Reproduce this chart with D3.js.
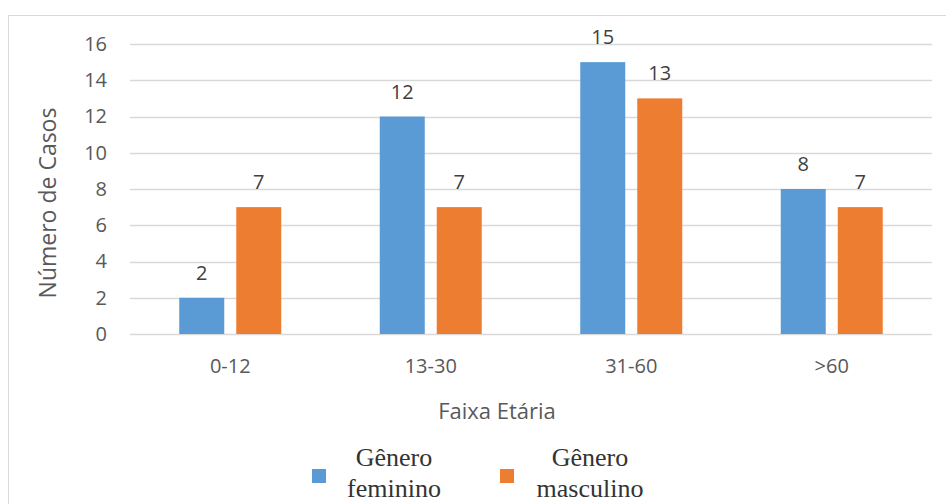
<!DOCTYPE html>
<html>
<head>
<meta charset="utf-8">
<script src="https://cdn.jsdelivr.net/npm/d3@7"></script>
<style>
  html, body { margin: 0; padding: 0; background: #fff; }
  svg { display: block; }
</style>
</head>
<body>
<svg id="chart" width="946" height="504"></svg>
<script>
// Age groups and case counts by gender
const categories = ["0-12", "13-30", "31-60", ">60"];
const feminino = [2, 12, 15, 8];
const masculino = [7, 7, 13, 7];
const seriesNames = ["Gênero feminino", "Gênero masculino"];
const yTicks = [0, 2, 4, 6, 8, 10, 12, 14, 16];

const colors = ["#5b9bd5", "#ed7d31"];
const textColor = "#595959";
const sans = "'Open Sans', 'Liberation Sans', sans-serif";

const svg = d3.select("#chart");

// outer frame
svg.append("rect")
  .attr("x", 8.5).attr("y", 15.5)
  .attr("width", 950).attr("height", 500)
  .attr("fill", "none").attr("stroke", "#d9d9d9").attr("stroke-width", 1);

const plot = { left: 130, right: 932, top: 44, bottom: 334 };

const x = d3.scaleBand().domain(categories).range([plot.left, plot.right]);
const y = d3.scaleLinear().domain([0, 16]).range([plot.bottom, plot.top]);

const barW = 45, gap = 12;

// gridlines
svg.append("g").selectAll("line").data(yTicks).join("line")
  .attr("x1", plot.left).attr("x2", plot.right)
  .attr("y1", d => Math.round(y(d)) + 0.5).attr("y2", d => Math.round(y(d)) + 0.5)
  .attr("stroke", "#d9d9d9").attr("stroke-width", 1.5);

// y axis labels
const yAxis = svg.append("g").attr("transform", `translate(${plot.left},0)`)
  .call(d3.axisLeft(y).tickValues(yTicks).tickSize(0).tickPadding(23));
yAxis.select(".domain").remove();
yAxis.selectAll("text").attr("font-family", sans).attr("font-size", 20).attr("fill", textColor);

// x axis labels
const xAxis = svg.append("g").attr("transform", `translate(0,${plot.bottom})`)
  .call(d3.axisBottom(x).tickSize(0).tickPadding(25));
xAxis.select(".domain").remove();
xAxis.selectAll("text").attr("font-family", sans).attr("font-size", 20).attr("fill", textColor);

// bars with value labels
const series = [feminino, masculino];
series.forEach((vals, si) => {
  const g = svg.append("g");
  const bx = (c) => x(c) + x.bandwidth() / 2 + (si === 0 ? -(barW + gap / 2) : gap / 2);
  g.selectAll("rect").data(categories).join("rect")
    .attr("x", c => bx(c))
    .attr("y", (c, i) => y(vals[i]))
    .attr("width", barW)
    .attr("height", (c, i) => y(0) - y(vals[i]))
    .attr("fill", colors[si]);
  g.selectAll("text").data(categories).join("text")
    .attr("x", c => bx(c) + barW / 2)
    .attr("y", (c, i) => y(vals[i]) - 18)
    .attr("text-anchor", "middle")
    .attr("font-family", sans).attr("font-size", 20).attr("fill", "#404040")
    .text((c, i) => vals[i]);
});

// axis titles
svg.append("text")
  .attr("transform", "translate(56,203) rotate(-90)")
  .attr("text-anchor", "middle")
  .attr("font-family", sans).attr("font-size", 23).attr("fill", textColor)
  .text("Número de Casos");

svg.append("text")
  .attr("x", 497).attr("y", 419)
  .attr("text-anchor", "middle")
  .attr("font-family", sans).attr("font-size", 22).attr("fill", textColor)
  .text("Faixa Etária");

// legend: swatch plus a two-line label
const legendItems = [
  { sq: 312, tx: 394 },
  { sq: 500, tx: 590 }
];
seriesNames.forEach((name, i) => {
  const it = legendItems[i];
  svg.append("rect")
    .attr("x", it.sq).attr("y", 469).attr("width", 14).attr("height", 14)
    .attr("fill", colors[i]);
  const words = name.split(" ");
  const t = svg.append("text")
    .attr("text-anchor", "middle")
    .attr("font-family", "'Liberation Serif', 'Times New Roman', serif")
    .attr("font-size", 26).attr("fill", "#333");
  words.forEach((w, k) => {
    t.append("tspan").attr("x", it.tx).attr("y", 466 + k * 31).text(w);
  });
});
</script>
</body>
</html>
